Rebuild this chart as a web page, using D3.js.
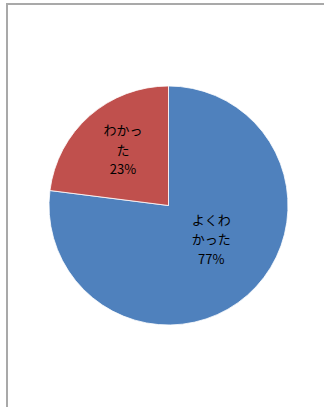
<!DOCTYPE html>
<html>
<head>
<meta charset="utf-8">
<script src="https://cdn.jsdelivr.net/npm/d3@7"></script>
<style>
  html, body { margin: 0; padding: 0; background: #fff; }
  svg { display: block; }
</style>
</head>
<body>
<script>
// Survey answers and their shares (percent)
const categories = ["よくわかった", "わかった"];
const labelLines = [["よくわ", "かった"], ["わかっ", "た"]];
const values = [77, 23];
const colors = ["#4F81BD", "#C0504D"];

const W = 324, H = 407;
const cx = 168.5, cy = 205.5, r = 119.5;

const svg = d3.select("body").append("svg")
  .attr("width", W).attr("height", H);

// Chart frame (top and left edges)
svg.append("line").attr("x1", 6).attr("x2", W).attr("y1", 4).attr("y2", 4)
  .attr("stroke", "#a9a9a9").attr("stroke-width", 2);
svg.append("line").attr("x1", 7).attr("x2", 7).attr("y1", 3).attr("y2", H)
  .attr("stroke", "#a9a9a9").attr("stroke-width", 2);

const data = categories.map((c, i) => ({ name: c, value: values[i], lines: labelLines[i], color: colors[i] }));

const pie = d3.pie().value(d => d.value).sort(null);
const arcs = pie(data);
const arc = d3.arc().innerRadius(0).outerRadius(r);

const g = svg.append("g").attr("transform", `translate(${cx},${cy})`);

g.selectAll("path").data(arcs).enter().append("path")
  .attr("d", arc)
  .attr("fill", d => d.data.color)
  .attr("stroke", "#ffffff")
  .attr("stroke-width", 0.8);

// Label placement: distance from centre and angular shift per slice
const labelRadius = [54, 72.5];
const labelShift = [-0.19, 0.045];
const lineH = 19.5;

arcs.forEach((a, i) => {
  const mid = (a.startAngle + a.endAngle) / 2 + labelShift[i];
  const lx = Math.sin(mid) * labelRadius[i];
  const ly = -Math.cos(mid) * labelRadius[i];
  const lines = a.data.lines.concat([a.data.value + "%"]);
  const t = g.append("text")
    .attr("x", lx).attr("y", ly)
    .attr("text-anchor", "middle")
    .attr("font-family", "'Noto Sans CJK JP', 'Noto Sans', sans-serif")
    .attr("font-size", 13)
    .attr("fill", "#000");
  const n = lines.length;
  lines.forEach((s, k) => {
    t.append("tspan")
      .attr("x", lx)
      .attr("y", ly + (k - (n - 1) / 2) * lineH)
      .attr("dominant-baseline", "central")
      .text(s);
  });
});
</script>
</body>
</html>
